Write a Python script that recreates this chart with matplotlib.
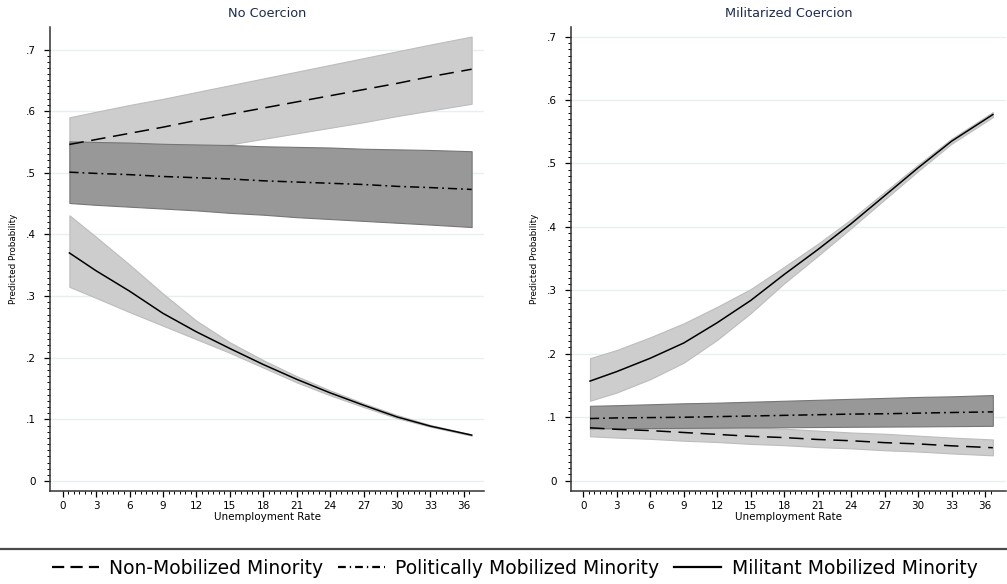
import matplotlib
matplotlib.use('Agg')
import matplotlib.pyplot as plt
from matplotlib.lines import Line2D
from matplotlib.ticker import FixedLocator
import numpy as np

plt.rcParams['font.family'] = ['DejaVu Sans']

# unemployment rate grid (x)
unemp = [0.6, 3, 6, 9, 12, 15, 18, 21, 24, 27, 30, 33, 36.7]

# --- No Coercion ---
nc_nonmob = [0.546, 0.554, 0.564, 0.574, 0.585, 0.595, 0.605, 0.615, 0.625, 0.635, 0.645, 0.656, 0.668]
nc_nonmob_hi = [0.590, 0.599, 0.610, 0.620, 0.631, 0.642, 0.653, 0.664, 0.675, 0.686, 0.697, 0.708, 0.721]
nc_nonmob_lo = [0.502, 0.509, 0.518, 0.528, 0.537, 0.546, 0.555, 0.564, 0.573, 0.582, 0.592, 0.601, 0.612]

nc_polmob = [0.501, 0.499, 0.497, 0.494, 0.492, 0.490, 0.487, 0.485, 0.483, 0.481, 0.478, 0.476, 0.473]
nc_polmob_hi = [0.551, 0.550, 0.549, 0.547, 0.546, 0.545, 0.543, 0.542, 0.541, 0.539, 0.538, 0.537, 0.535]
nc_polmob_lo = [0.451, 0.448, 0.445, 0.442, 0.439, 0.435, 0.432, 0.428, 0.425, 0.422, 0.419, 0.416, 0.412]

nc_milit = [0.370, 0.341, 0.308, 0.272, 0.242, 0.215, 0.189, 0.165, 0.143, 0.123, 0.104, 0.089, 0.0745]
nc_milit_hi = [0.431, 0.396, 0.351, 0.304, 0.260, 0.225, 0.196, 0.170, 0.147, 0.126, 0.107, 0.091, 0.0755]
nc_milit_lo = [0.315, 0.297, 0.274, 0.252, 0.230, 0.208, 0.184, 0.160, 0.139, 0.120, 0.102, 0.088, 0.0735]

# --- Militarized Coercion ---
mc_nonmob = [0.0834, 0.081, 0.079, 0.076, 0.073, 0.070, 0.068, 0.065, 0.063, 0.060, 0.058, 0.055, 0.052]
mc_nonmob_hi = [0.097, 0.095, 0.092, 0.090, 0.087, 0.084, 0.082, 0.079, 0.076, 0.074, 0.071, 0.068, 0.065]
mc_nonmob_lo = [0.070, 0.068, 0.066, 0.063, 0.061, 0.058, 0.056, 0.053, 0.051, 0.048, 0.046, 0.043, 0.040]

mc_polmob = [0.098, 0.099, 0.0995, 0.100, 0.101, 0.102, 0.103, 0.104, 0.105, 0.1055, 0.1065, 0.1075, 0.1085]
mc_polmob_hi = [0.118, 0.119, 0.1205, 0.122, 0.123, 0.1245, 0.126, 0.1275, 0.129, 0.1305, 0.132, 0.133, 0.135]
mc_polmob_lo = [0.0824, 0.0827, 0.083, 0.0833, 0.0836, 0.084, 0.0843, 0.0846, 0.085, 0.0853, 0.0856, 0.086, 0.0865]

mc_milit = [0.157, 0.172, 0.193, 0.217, 0.249, 0.284, 0.325, 0.364, 0.405, 0.449, 0.493, 0.535, 0.577]
mc_milit_hi = [0.193, 0.206, 0.226, 0.248, 0.274, 0.302, 0.337, 0.373, 0.412, 0.455, 0.498, 0.539, 0.581]
mc_milit_lo = [0.126, 0.139, 0.160, 0.186, 0.222, 0.264, 0.311, 0.354, 0.398, 0.443, 0.488, 0.531, 0.573]

titles = ["No Coercion", "Militarized Coercion"]
legend_labels = ["Non-Mobilized Minority", "Politically Mobilized Minority", "Militant Mobilized Minority"]
ytick_vals = [0, 0.1, 0.2, 0.3, 0.4, 0.5, 0.6, 0.7]
ytick_text = ["0", ".1", ".2", ".3", ".4", ".5", ".6", ".7"]

light = '#cdcdcd'
light_edge = '#bcbcbc'
dark = '#989898'
dark_edge = '#767676'
title_col = '#1c2b4f'
dash = (0, (9.5, 5))
dashdot = (0, (6, 2.6, 1.2, 2.6))

fig = plt.figure(figsize=(10.07, 5.84), dpi=100)
ax1 = fig.add_axes([50 / 1007, 1 - 491 / 584, 434 / 1007, 464 / 584])
ax2 = fig.add_axes([571 / 1007, 1 - 491 / 584, 435 / 1007, 464 / 584])

panels = [
    (ax1, nc_nonmob, nc_nonmob_hi, nc_nonmob_lo, nc_polmob, nc_polmob_hi, nc_polmob_lo,
     nc_milit, nc_milit_hi, nc_milit_lo, (-1.14, 37.81), (-0.0162, 0.7365)),
    (ax2, mc_nonmob, mc_nonmob_hi, mc_nonmob_lo, mc_polmob, mc_polmob_hi, mc_polmob_lo,
     mc_milit, mc_milit_hi, mc_milit_lo, (-1.10, 37.88), (-0.0162, 0.715)),
]

x = np.array(unemp)
for i, (ax, nm, nmh, nml, pm, pmh, pml, mm, mmh, mml, xl, yl) in enumerate(panels):
    for v in ytick_vals:
        ax.axhline(v, color='#e6f0f2', lw=1.0, zorder=0)
    ax.fill_between(x, nml, nmh, facecolor=light, edgecolor=light_edge, lw=0.8, zorder=1)
    ax.fill_between(x, pml, pmh, facecolor=dark, edgecolor=dark_edge, lw=0.8, zorder=2)
    ax.fill_between(x, mml, mmh, facecolor=light, edgecolor=light_edge, lw=0.8, zorder=3)
    ax.plot(x, nm, color='black', lw=1.1, linestyle=dash, zorder=4)
    ax.plot(x, pm, color='black', lw=1.1, linestyle=dashdot, zorder=4)
    ax.plot(x, mm, color='black', lw=1.1, zorder=4)

    ax.set_xlim(*xl)
    ax.set_ylim(*yl)
    ax.spines['top'].set_visible(False)
    ax.spines['right'].set_visible(False)
    for s in ('left', 'bottom'):
        ax.spines[s].set_color('#333333')
        ax.spines[s].set_linewidth(1.1)

    ax.xaxis.set_major_locator(FixedLocator(list(range(0, 37, 3))))
    ax.xaxis.set_minor_locator(FixedLocator([k * 0.5 for k in range(0, 74)]))
    ax.yaxis.set_major_locator(FixedLocator(ytick_vals))
    ax.set_yticklabels(ytick_text)
    ax.yaxis.set_minor_locator(FixedLocator([k * 0.01 for k in range(0, 71)]))
    ax.tick_params(which='major', length=4, width=0.9, labelsize=7.5, pad=3)
    ax.tick_params(axis='y', which='major', pad=6)
    ax.tick_params(which='minor', length=2.2, width=0.7)

    ax.set_xlabel("Unemployment Rate", fontsize=7.5, labelpad=1)
    ax.set_ylabel("Predicted Probability", fontsize=6.3, labelpad=6)
    ax.set_title(titles[i], fontsize=9.3, color=title_col, pad=7)

# separator line above legend
fig.add_artist(Line2D([0, 1], [1 - 549 / 584, 1 - 549 / 584], transform=fig.transFigure,
                      color='#4a4a4a', lw=1.6))

handles = [
    Line2D([], [], color='black', lw=1.6, linestyle=(0, (5.5, 2.8))),
    Line2D([], [], color='black', lw=1.6, linestyle=(0, (3.5, 1.8, 0.6, 1.8))),
    Line2D([], [], color='black', lw=1.6),
]
fig.legend(handles, legend_labels, loc='center', bbox_to_anchor=(0.511, 1 - 568 / 584),
           ncol=3, frameon=False, fontsize=13.5, handlelength=2.5, handletextpad=0.55,
           columnspacing=0.8, borderpad=0)

plt.savefig('out.png', dpi=100)
